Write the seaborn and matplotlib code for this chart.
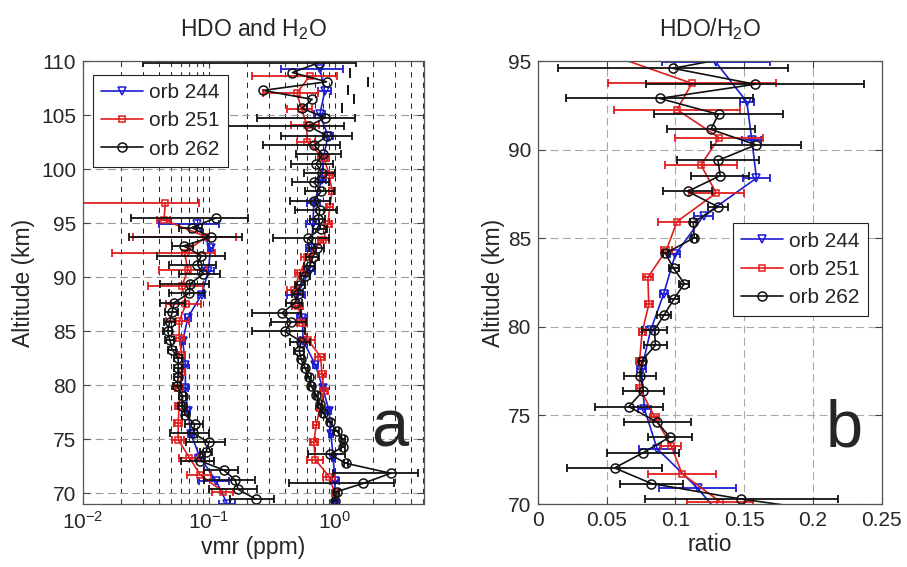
import numpy as np
import matplotlib
matplotlib.use("Agg")
import matplotlib.pyplot as plt
from matplotlib.ticker import LogLocator, MultipleLocator, FuncFormatter, NullFormatter
import seaborn as sns

sns.set_theme(style="ticks")
plt.rcParams["font.family"] = ["Liberation Sans", "DejaVu Sans"]
plt.rcParams["mathtext.fontset"] = "custom"
plt.rcParams["mathtext.rm"] = "Liberation Sans"
plt.rcParams["mathtext.it"] = "Liberation Sans:italic"
plt.rcParams["mathtext.bf"] = "Liberation Sans:bold"

# --- orb 244 (blue) ---
alt_h2o_244 = [109.3, 107.2, 105.1, 103.1, 101.0, 99.0, 96.9, 94.94, 92.7, 90.57,
               88.4, 86.27, 84.1, 81.9, 79.75, 77.6, 75.45, 73.3, 71.15, 69.0]
h2o_244 = [0.76, 0.83, 0.76, 0.88, 0.81, 0.79, 0.68, 0.67, 0.65, 0.63,
           0.50, 0.55, 0.56, 0.70, 0.80, 0.90, 0.93, 0.97, 1.00, 1.00]
h2o_err_244 = [0.39, 0.10, 0.08, 0.08, 0.06, 0.06, 0.08, 0.08, 0.06, 0.06,
               0.08, 0.05, 0.04, 0.03, 0.03, 0.03, 0.03, 0.03, 0.08, 0.05]
alt_hdo_244 = [94.94, 92.7, 90.57, 88.4, 86.27, 84.1, 81.9, 79.75, 77.6, 75.45,
               73.3, 71.15, 69.0]
hdo_244 = [0.080, 0.103, 0.099, 0.0875, 0.068, 0.062, 0.065, 0.065, 0.068, 0.072,
           0.085, 0.114, 0.140]
hdo_err_244 = [0.040, 0.005, 0.010, 0.005, 0.004, 0.003, 0.003, 0.003, 0.003, 0.004,
               0.008, 0.030, 0.020]
alt_rat_244 = [94.94, 92.7, 90.57, 88.4, 86.27, 84.1, 81.87, 79.8, 77.6, 75.37,
               73.13, 70.88, 68.7]
rat_244 = [0.1295, 0.152, 0.1556, 0.159, 0.1205, 0.100, 0.0915, 0.082, 0.0754, 0.0775,
           0.0867, 0.1164, 0.140]
rat_err_244 = [0.039, 0.005, 0.007, 0.0097, 0.007, 0.0036, 0.003, 0.003, 0.003, 0.005,
               0.013, 0.028, 0.020]

# --- orb 251 (red) ---
alt_h2o_251 = [108.6, 107.1, 105.6, 104.1, 102.55, 101.0, 99.5, 98.0, 96.5, 94.95,
               93.45, 91.9, 90.4, 88.85, 87.3, 85.8, 84.2, 82.65, 81.0, 79.45,
               77.85, 76.3, 74.7, 73.1, 71.55, 70.0]
h2o_251 = [0.63, 0.50, 0.54, 0.60, 0.60, 0.82, 0.90, 0.95, 0.91, 0.88,
           0.81, 0.60, 0.53, 0.47, 0.51, 0.55, 0.61, 0.77, 0.79, 0.82,
           0.76, 0.71, 0.68, 0.70, 0.90, 1.00]
h2o_err_251 = [0.41, 0.23, 0.12, 0.15, 0.10, 0.08, 0.06, 0.06, 0.06, 0.06,
               0.08, 0.06, 0.05, 0.05, 0.05, 0.05, 0.08, 0.07, 0.06, 0.06,
               0.04, 0.04, 0.05, 0.10, 0.10, 0.05]
alt_hdo_251 = [96.9, 95.3, 93.75, 92.27, 90.68, 89.15, 87.56, 85.95, 84.34, 82.8,
               81.27, 79.7, 78.1, 76.55, 74.94, 73.3, 71.72, 70.13]
hdo_251 = [0.045, 0.044, 0.095, 0.064, 0.068, 0.061, 0.066, 0.058, 0.058, 0.061,
           0.061, 0.058, 0.058, 0.057, 0.057, 0.070, 0.085, 0.130]
hdo_err_251 = [0.039, 0.005, 0.070, 0.047, 0.028, 0.028, 0.020, 0.012, 0.005, 0.004,
               0.004, 0.004, 0.004, 0.004, 0.006, 0.012, 0.018, 0.025]
alt_rat_251 = [95.3, 93.75, 92.27, 90.68, 89.15, 87.56, 85.95, 84.34, 82.8, 81.27,
               79.7, 78.1, 76.55, 74.94, 73.3, 71.72, 70.13]
rat_251 = [0.055, 0.112, 0.1012, 0.1319, 0.1186, 0.1297, 0.1012, 0.0935, 0.080, 0.0807,
           0.0758, 0.074, 0.074, 0.0848, 0.0969, 0.1048, 0.1326]
rat_err_251 = [0.030, 0.061, 0.046, 0.032, 0.026, 0.020, 0.014, 0.004, 0.0036, 0.003,
               0.0025, 0.0025, 0.0025, 0.0036, 0.007, 0.0245, 0.024]

# --- orb 262 (black) ---
alt_h2o_262 = [109.88, 108.95, 108.1, 107.3, 106.47, 105.64, 104.78, 104.0, 103.07, 102.24,
               101.38, 100.5, 99.67, 98.8, 97.97, 97.1, 96.27, 95.4, 94.5, 93.6,
               92.75, 91.9, 91.0, 90.15, 89.3, 88.45, 87.6, 86.7, 85.85, 84.98,
               84.05, 83.2, 82.4, 81.6, 80.75, 79.9, 79.1, 78.27, 77.4, 76.6,
               75.8, 75.0, 74.3, 73.6, 72.77, 71.85, 70.92, 70.14, 69.3]
h2o_262 = [0.75, 0.46, 0.86, 0.27, 0.66, 0.545, 0.84, 0.62, 0.87, 0.68,
           0.80, 0.71, 0.79, 0.68, 0.78, 0.68, 0.76, 0.74, 0.77, 0.61,
           0.72, 0.67, 0.63, 0.58, 0.53, 0.51, 0.48, 0.38, 0.45, 0.40,
           0.54, 0.52, 0.54, 0.58, 0.62, 0.65, 0.71, 0.76, 0.81, 0.91,
           1.03, 1.16, 1.16, 0.91, 1.23, 2.77, 1.68, 1.03, 1.00]
h2o_err_262 = [0.72, 0.86, 0.98, 1.01, 0.76, 0.59, 0.60, 0.57, 0.50, 0.41,
               0.31, 0.26, 0.22, 0.22, 0.20, 0.24, 0.28, 0.10, 0.10, 0.29,
               0.10, 0.08, 0.06, 0.05, 0.05, 0.05, 0.07, 0.16, 0.14, 0.18,
               0.10, 0.05, 0.03, 0.03, 0.03, 0.03, 0.03, 0.03, 0.03, 0.04,
               0.05, 0.05, 0.05, 0.30, 0.05, 1.80, 1.25, 0.05, 0.04]
alt_hdo_262 = [95.5, 94.6, 93.7, 92.9, 92.0, 91.15, 90.3, 89.4, 88.54, 87.65,
               86.78, 85.9, 85.04, 84.15, 83.3, 82.48, 81.6, 80.75, 79.9, 79.0,
               78.1, 77.25, 76.4, 75.55, 74.7, 73.85, 73.0, 72.15, 71.25, 70.35, 69.45]
hdo_262 = [0.114, 0.073, 0.103, 0.063, 0.087, 0.081, 0.090, 0.071, 0.070, 0.053,
           0.051, 0.049, 0.047, 0.049, 0.051, 0.057, 0.057, 0.057, 0.056, 0.062,
           0.061, 0.065, 0.077, 0.075, 0.100, 0.095, 0.085, 0.131, 0.161, 0.171, 0.236]
hdo_err_262 = [0.090, 0.015, 0.080, 0.012, 0.048, 0.033, 0.032, 0.030, 0.022, 0.012,
               0.006, 0.005, 0.004, 0.004, 0.004, 0.004, 0.004, 0.004, 0.004, 0.004,
               0.004, 0.004, 0.012, 0.026, 0.034, 0.010, 0.025, 0.040, 0.070, 0.070, 0.090]
alt_rat_262 = [95.47, 94.6, 93.7, 92.9, 92.0, 91.15, 90.28, 89.4, 88.54, 87.65,
               86.78, 85.9, 85.04, 84.15, 83.3, 82.45, 81.55, 80.7, 79.83, 78.97,
               78.1, 77.25, 76.4, 75.5, 74.63, 73.78, 72.9, 72.04, 71.16, 70.28, 69.4]
rat_262 = [0.158, 0.0983, 0.158, 0.0887, 0.1314, 0.1258, 0.1587, 0.131, 0.1326, 0.109,
           0.131, 0.113, 0.1138, 0.0928, 0.0988, 0.1065, 0.0988, 0.092, 0.0848, 0.0855,
           0.0758, 0.0746, 0.0766, 0.0662, 0.0867, 0.0959, 0.0766, 0.0558, 0.0826, 0.148, 0.230]
rat_err_262 = [0.080, 0.0838, 0.079, 0.068, 0.047, 0.032, 0.0327, 0.0297, 0.021, 0.018,
               0.007, 0.0025, 0.002, 0.002, 0.0036, 0.0036, 0.0036, 0.005, 0.009, 0.0085,
               0.0025, 0.0116, 0.015, 0.025, 0.0244, 0.016, 0.026, 0.0346, 0.023, 0.0704, 0.080]

orbits = [
    ("orb 244", "#1c1cd2", "v", 5.5,
     (alt_hdo_244, hdo_244, hdo_err_244), (alt_h2o_244, h2o_244, h2o_err_244),
     (alt_rat_244, rat_244, rat_err_244)),
    ("orb 251", "#e01e1e", "s", 4.5,
     (alt_hdo_251, hdo_251, hdo_err_251), (alt_h2o_251, h2o_251, h2o_err_251),
     (alt_rat_251, rat_251, rat_err_251)),
    ("orb 262", "#111111", "o", 6.5,
     (alt_hdo_262, hdo_262, hdo_err_262), (alt_h2o_262, h2o_262, h2o_err_262),
     (alt_rat_262, rat_262, rat_err_262)),
]


def profile(ax, alt, val, err, color, marker, ms, label=None):
    alt = np.asarray(alt)
    val = np.asarray(val)
    err = np.asarray(err)
    # bars reaching below zero on the log axis: only the right cap shows
    full = val - err > 0
    ax.errorbar(val[full], alt[full], xerr=err[full], fmt="none", ecolor=color,
                elinewidth=1.3, capsize=3, capthick=1.3)
    if (~full).any():
        ax.plot(val[~full] + err[~full], alt[~full], ls="none", marker="|",
                ms=7, mew=1.4, color=color)
    sns.lineplot(x=val, y=alt, sort=False, estimator=None, ax=ax, color=color,
                 marker=marker, markersize=ms, markerfacecolor="none",
                 markeredgecolor=color, markeredgewidth=1.1, lw=1.2, label=label)


fig = plt.figure(figsize=(9.07, 5.67), dpi=100)
ax1 = fig.add_axes([0.0915, 0.111, 0.376, 0.781])
ax2 = fig.add_axes([0.593, 0.111, 0.379, 0.781])

for label, color, marker, ms, hdo, h2o, rat in orbits:
    profile(ax1, *hdo, color, marker, ms)
    profile(ax1, *h2o, color, marker, ms, label=label)
    profile(ax2, *rat, color, marker, ms, label=label)

TICK_FS = 15
LABEL_FS = 16.5

# Panel a: log vmr
ax1.set_xscale("log")
ax1.set_xlim(0.01, 5.1)
ax1.set_ylim(69, 110)
ax1.xaxis.set_major_locator(LogLocator(base=10, numticks=10))
ax1.xaxis.set_minor_locator(LogLocator(base=10, subs=np.arange(2, 10), numticks=20))
ax1.xaxis.set_minor_formatter(NullFormatter())
ax1.yaxis.set_major_locator(MultipleLocator(5))
ax1.grid(True, which="both", axis="x", color="#2a2a2a", ls=(0, (5, 5)), lw=0.75)
ax1.grid(True, which="major", axis="y", color="#9a9a9a", ls=(0, (7, 4)), lw=0.8)
ax1.set_xlabel("vmr (ppm)", fontsize=LABEL_FS, labelpad=2)
ax1.set_ylabel("Altitude (km)", fontsize=LABEL_FS, labelpad=4)
ax1.set_title(r"HDO and H$_\mathregular{2}$O", fontsize=LABEL_FS, pad=18)
ax1.text(0.9, 0.13, "a", transform=ax1.transAxes, fontsize=48,
         ha="center", va="baseline")

# Panel b: ratio
ax2.set_xlim(0, 0.25)
ax2.set_ylim(70, 95)
ax2.xaxis.set_major_locator(MultipleLocator(0.05))
ax2.xaxis.set_major_formatter(FuncFormatter(lambda v, p: f"{v:g}"))
ax2.yaxis.set_major_locator(MultipleLocator(5))
ax2.grid(True, color="#a8a8a8", ls=(0, (7, 4)), lw=0.8)
ax2.set_xlabel("ratio", fontsize=LABEL_FS, labelpad=2)
ax2.set_ylabel("Altitude (km)", fontsize=LABEL_FS, labelpad=2)
ax2.set_title(r"HDO/H$_\mathregular{2}$O", fontsize=LABEL_FS, pad=18)
ax2.text(0.89, 0.13, "b", transform=ax2.transAxes, fontsize=48,
         ha="center", va="baseline")

for ax in (ax1, ax2):
    ax.set_axisbelow(True)
    ax.tick_params(which="both", direction="in", top=True, right=True,
                   labelsize=TICK_FS, width=0.8, color="#444444", pad=5)
    ax.tick_params(which="major", length=5)
    ax.tick_params(which="minor", length=3)
    for s in ax.spines.values():
        s.set_color("#555555")
        s.set_linewidth(0.9)

leg_kw = dict(fontsize=15, frameon=True, fancybox=False, framealpha=1,
              edgecolor="#222222", handlelength=2.0, handletextpad=0.3,
              labelspacing=0.45, borderpad=0.4, borderaxespad=0)
l1 = ax1.legend(loc="upper left", bbox_to_anchor=(0.029, 0.97), **leg_kw)
l2 = ax2.legend(loc="upper right", bbox_to_anchor=(0.96, 0.634), **leg_kw)
for leg in (l1, l2):
    leg.get_frame().set_linewidth(0.8)

fig.savefig("out.png", dpi=100)
